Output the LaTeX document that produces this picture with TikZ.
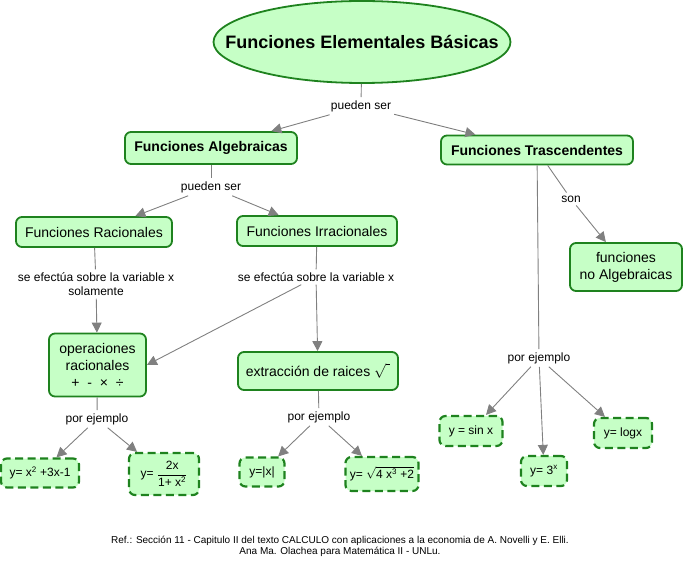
\documentclass[tikz,border=0pt]{standalone}
\usepackage{amsmath}
\usepackage{fontspec}
\setmainfont{Liberation Sans}
\usepackage{xcolor}
\usepackage{tikz}
\usetikzlibrary{arrows.meta, shapes.geometric, positioning}
\definecolor{conceptfill}{RGB}{198,255,198}
\definecolor{conceptline}{RGB}{30,130,30}
\definecolor{linkgray}{RGB}{128,128,128}
\tikzset{
concept/.style={
    rectangle,
    draw=conceptline,
    fill=conceptfill,
    rounded corners=6pt,
    line width=1.8pt,
    align=center,
    inner sep=2pt,
    font=\fontsize{14}{17}\selectfont
},
headconcept/.style={concept, font=\fontsize{14}{17}\selectfont\bfseries},
example/.style={
    concept,
    dash pattern=on 8pt off 4.5pt,
    line width=2.2pt,
    font=\fontsize{12}{14}\selectfont
},
linkword/.style={inner sep=3pt, align=center, font=\fontsize{12}{14}\selectfont},
link/.style={draw=linkgray, line width=0.9pt},
boxsize/.style 2 args={minimum width=#1pt, minimum height=#2pt}
}

\begin{document}
\begin{tikzpicture}[
        x=1pt, y=-1pt,
        >={Triangle[length=10pt, width=10pt]}
    ]
    \useasboundingbox (0,0) rectangle (683,561);

    % node placement
    \node[ellipse, draw=conceptline, fill=conceptfill, line width=1.8pt, inner sep=0pt,
          minimum width=297pt, minimum height=82pt,
          font=\fontsize{18}{20}\selectfont\bfseries] (FEB) at (362,42)
        {\makebox[0pt]{Funciones Elementales Básicas}};
    \node[linkword] (ps1) at (361,106) {pueden ser};

    \node[headconcept, boxsize={172}{32}] (FA) at (211,148) {Funciones Algebraicas};
    \node[headconcept, boxsize={192}{29}] (FT) at (537,150) {Funciones Trascendentes};
    \node[linkword] (ps2) at (211,187) {pueden ser};

    \node[concept, boxsize={156}{30}] (FR) at (94,232) {Funciones Racionales};
    \node[concept, boxsize={160}{30}] (FI) at (317,231) {Funciones Irracionales};
    \node[linkword] (ef1) at (96,284) {se efectúa sobre la variable x\\solamente};
    \node[linkword] (ef2) at (316,277) {se efectúa sobre la variable x};

    \node[concept, boxsize={97}{63}] (OR) at (97.5,365) {operaciones\\racionales\\+ \ - \ × \ ÷};
    \node[concept, boxsize={160}{38}] (ER) at (318,371) {extracción de raices $\sqrt{\vphantom{A}\;}$};

    \node[linkword] (pe1) at (97,419) {por ejemplo};
    \node[example, boxsize={78}{29}] (E1) at (40,473) {y= x\textsuperscript{2} +3x-1};
    \node[example, boxsize={70}{42}] (E2) at (164,474)
        {y= $\dfrac{\hbox{2x}}{\hbox{1+ x\textsuperscript{2}}}$};

    \node[linkword] (pe2) at (319,417) {por ejemplo};
    \node[example, boxsize={45}{29}] (E3) at (262,472) {y=|x|};
    \node[example, boxsize={73}{34}] (E4) at (382,474)
        {y= $\sqrt{\hbox{4 x\textsuperscript{3} +2}}$};

    \node[linkword] (son) at (571,199) {son};
    \node[concept, boxsize={112}{48}] (NA) at (626,267) {funciones\\no Algebraicas};

    \node[linkword] (pe3) at (539,358) {por ejemplo};
    \node[example, boxsize={63}{30}] (E5) at (471,431) {y = sin x};
    \node[example, boxsize={46}{30}] (E6) at (544,471) {y= 3\textsuperscript{x}};
    \node[example, boxsize={58}{30}] (E7) at (623,433) {y= logx};

    \node[align=center, font=\fontsize{10}{11}\selectfont] (REF) at (340,546)
        {Ref.: Sección 11 - Capitulo II del texto CALCULO con aplicaciones a la economia de A. Novelli y E. Elli.\\
         Ana Ma. Olachea para Matemática II - UNLu.};

    % edges
    \draw[link] (FEB) -- (ps1);
    \draw[link, ->] (ps1) -- (FA);
    \draw[link, ->] (ps1) -- (FT);

    \draw[link] (FA) -- (ps2);
    \draw[link, ->] (ps2) -- (FR);
    \draw[link, ->] (ps2) -- (FI);

    \draw[link] (FR) -- (ef1);
    \draw[link, ->] (ef1) -- (OR);
    \draw[link] (FI) -- (ef2);
    \draw[link, ->] (ef2) -- (OR.east);
    \draw[link, ->] (ef2) -- (ER);

    \draw[link] (OR) -- (pe1);
    \draw[link, ->] (pe1) -- (E1);
    \draw[link, ->] (pe1) -- (E2);

    \draw[link] (ER) -- (pe2);
    \draw[link, ->] (pe2) -- (E3);
    \draw[link, ->] (pe2) -- (E4);

    \draw[link] (FT) -- (son);
    \draw[link, ->] (son) -- (NA);

    \draw[link] (FT) -- (pe3);
    \draw[link, ->] (pe3) -- (E5);
    \draw[link, ->] (pe3) -- (E6);
    \draw[link, ->] (pe3) -- (E7);

\end{tikzpicture}
\end{document}
